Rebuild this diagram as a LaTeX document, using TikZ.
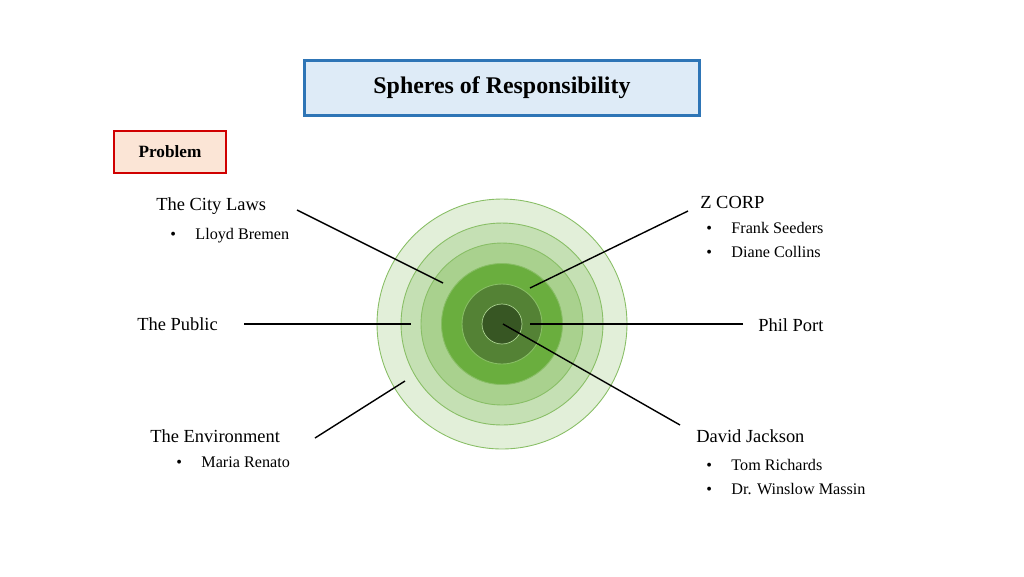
\documentclass[tikz,border=0pt]{standalone}
\usepackage{fontspec}
\setmainfont{Liberation Serif}
\usetikzlibrary{positioning}
\definecolor{ringA}{HTML}{E2EFD9}
\definecolor{ringB}{HTML}{C5E0B4}
\definecolor{ringC}{HTML}{A9D18E}
\definecolor{ringD}{HTML}{6AAE3E}
\definecolor{ringE}{HTML}{548235}
\definecolor{ringF}{HTML}{375623}
\definecolor{titleblue}{HTML}{2E75B6}
\definecolor{titlefill}{HTML}{DEEBF7}
\definecolor{probred}{HTML}{D00000}
\definecolor{probfill}{HTML}{FBE5D6}
\tikzset{
  ring/.style={draw=ringD!80,line width=0.5pt},
  lbl/.style={font=\fontsize{10.5}{12}\selectfont,inner sep=0pt},
  item/.style={font=\fontsize{9.2}{11}\selectfont,inner sep=0pt,anchor=west},
  lead/.style={line width=0.8pt}
}
\begin{document}
\begin{tikzpicture}[x=0.02cm,y=-0.02cm]
\useasboundingbox (0,0) rectangle (1024,576);
% rings
\coordinate (c) at (502,324);
\filldraw[ring,fill=ringA] (c) circle (2.50cm);
\filldraw[ring,fill=ringB] (c) circle (2.02cm);
\filldraw[ring,fill=ringC] (c) circle (1.62cm);
\filldraw[ring,fill=ringD] (c) circle (1.21cm);
\filldraw[ring,fill=ringE] (c) circle (0.80cm);
\filldraw[draw=ringC,fill=ringF] (c) circle (0.40cm);
% boxes
\node[draw=titleblue,line width=1.6pt,fill=titlefill,minimum width=7.9cm,minimum height=1.1cm,
  font=\bfseries\fontsize{13.6}{16}\selectfont] (title) at (502,88) {Spheres of Responsibility};
\node[draw=probred,line width=1.2pt,fill=probfill,minimum width=2.25cm,minimum height=0.84cm,
  font=\bfseries\fontsize{9.8}{12}\selectfont] (problem) at (170,152) {Problem};
% labels
\node[lbl,anchor=west] (city) at (156,206) {The City Laws};
\node[item] (cityA) at (170,236) {\textbullet\hspace{1.2em}Lloyd Bremen};
\node[lbl,anchor=west] (zcorp) at (700,202) {Z CORP};
\node[item] (zA) at (706,228) {\textbullet\hspace{1.2em}Frank Seeders};
\node[item] (zB) at (706,252) {\textbullet\hspace{1.2em}Diane Collins};
\node[lbl,anchor=west] (public) at (137,324) {The Public};
\node[lbl,anchor=west] (phil) at (758,325) {Phil Port};
\node[lbl,anchor=west] (env) at (150,436) {The Environment};
\node[item] (envA) at (176,462) {\textbullet\hspace{1.2em}Maria Renato};
\node[lbl,anchor=west] (david) at (696,436) {David Jackson};
\node[item] (dA) at (706,465) {\textbullet\hspace{1.2em}Tom Richards};
\node[item] (dB) at (706,489) {\textbullet\hspace{1.2em}Dr. Winslow Massin};
% leader ends
\coordinate (cityS) at (297,210);
\coordinate (cityE) at (443,283);
\coordinate (zcorpS) at (688,211);
\coordinate (zcorpE) at (530,288);
\coordinate (publicS) at (244,324);
\coordinate (publicE) at (411,324);
\coordinate (philS) at (743,324);
\coordinate (philE) at (530,324);
\coordinate (envS) at (315,438);
\coordinate (envE) at (405,381);
\coordinate (davidS) at (680,425);
\coordinate (davidE) at (503,324);
\foreach \h in {city,zcorp,public,phil,env,david}{
\draw[lead] (\h S) -- (\h E);
}
\end{tikzpicture}
\end{document}
